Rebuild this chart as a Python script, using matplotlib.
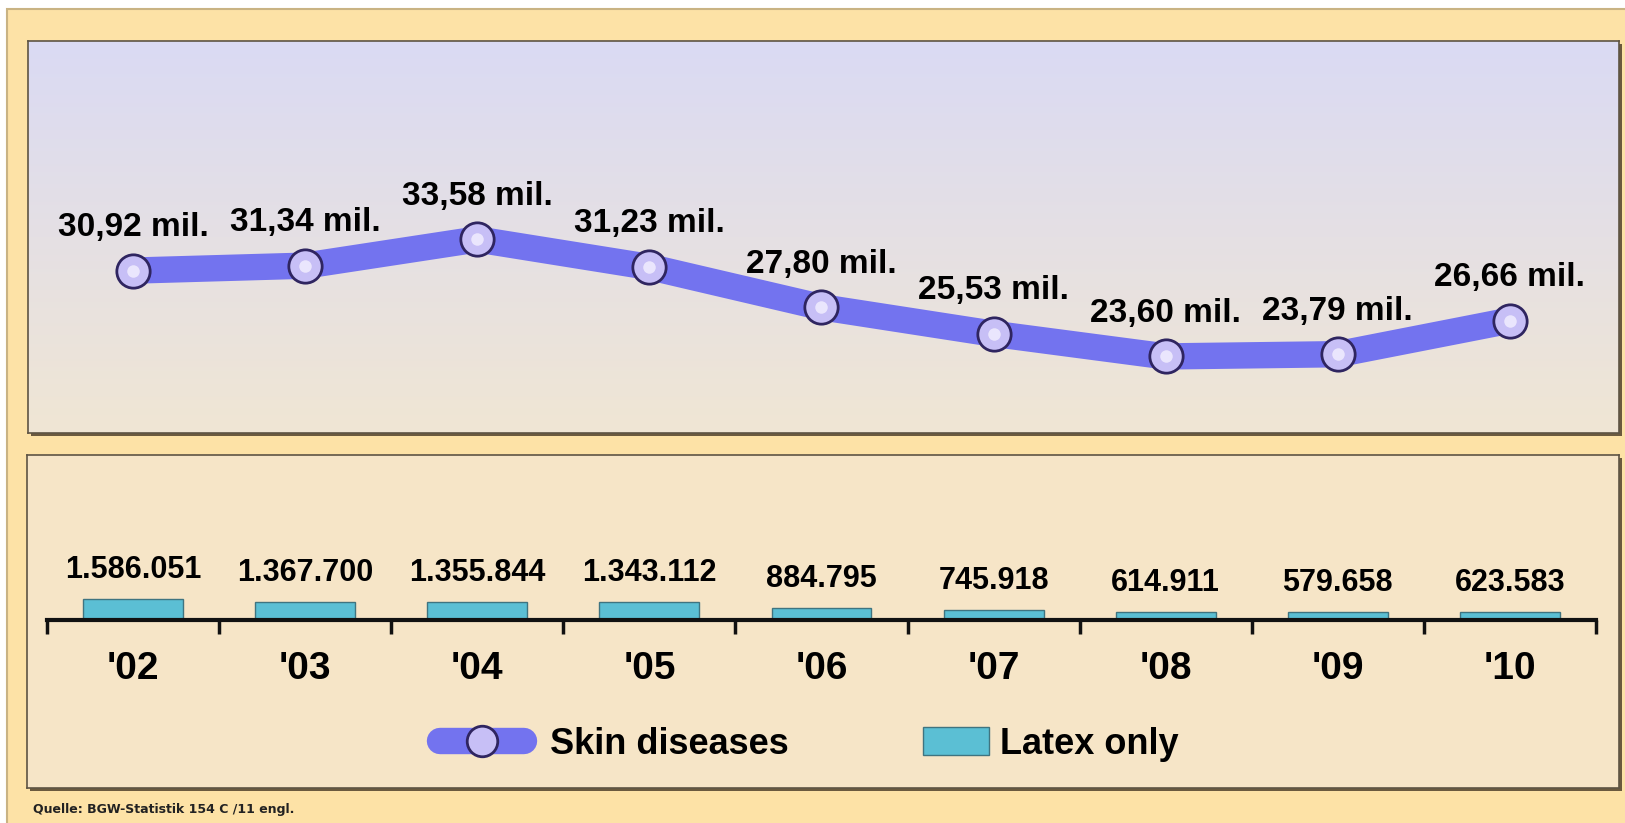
import matplotlib.pyplot as plt
import numpy as np
from matplotlib.patches import Rectangle, Patch
from matplotlib.lines import Line2D

plt.rcParams['font.family'] = ['Liberation Sans', 'DejaVu Sans']

years = ["'02", "'03", "'04", "'05", "'06", "'07", "'08", "'09", "'10"]
skin = [30.92, 31.34, 33.58, 31.23, 27.80, 25.53, 23.60, 23.79, 26.66]
skin_labels = ["30,92 mil.", "31,34 mil.", "33,58 mil.", "31,23 mil.", "27,80 mil.",
               "25,53 mil.", "23,60 mil.", "23,79 mil.", "26,66 mil."]
latex = [1586051, 1367700, 1355844, 1343112, 884795, 745918, 614911, 579658, 623583]
latex_labels = ["1.586.051", "1.367.700", "1.355.844", "1.343.112", "884.795",
                "745.918", "614.911", "579.658", "623.583"]

W, H = 1625, 823
fig = plt.figure(figsize=(W / 100, H / 100), dpi=100)
fig.patch.set_facecolor('white')


def box(x0, y0, x1, y1):
    # pixel box (top-left origin) -> figure fraction
    return [x0 / W, 1 - y1 / H, (x1 - x0) / W, (y1 - y0) / H]


# outer orange frame
fig.patches.append(Rectangle((7 / W, -0.05), 1, 1.05 - 9 / H, transform=fig.transFigure,
                             facecolor='#fde2a6', edgecolor='#c9b383', lw=1.5, zorder=-5))

# panel shadows
for (x0, y0, x1, y1) in [(28, 41, 1619, 433), (27, 455, 1619, 788)]:
    fig.patches.append(Rectangle(((x0 + 3) / W, 1 - (y1 + 3) / H), (x1 - x0) / W, (y1 - y0) / H,
                                 transform=fig.transFigure, facecolor='#6b5a3e',
                                 edgecolor='none', zorder=-4))

x = np.arange(len(years))

# ---- top panel: skin diseases line ----
ax1 = fig.add_axes(box(28, 41, 1619, 433))
ax1.set_xlim(-0.61, 8.634)
ax1.set_ylim(17.07, 50.5)
grad = np.linspace(0, 1, 256)[:, None]
c_top = np.array([218, 218, 244]) / 255
c_bot = np.array([240, 230, 212]) / 255
img = c_top[None, None, :] * (1 - grad[:, :, None]) + c_bot[None, None, :] * grad[:, :, None]
ax1.imshow(img, extent=[-0.61, 8.634, 17.07, 50.5], aspect='auto', zorder=0)
ax1.plot(x, skin, color='#7373ef', lw=19, solid_capstyle='butt', solid_joinstyle='round', zorder=2)
ax1.plot(x, skin, ls='none', marker='o', ms=24, mfc='#c7bff6', mec='#2f2560', mew=2, zorder=3)
ax1.plot(x, skin, ls='none', marker='o', ms=9, mfc='#f4f0ff', mec='none', alpha=0.8, zorder=4)
for xi, v, lab in zip(x, skin, skin_labels):
    ax1.annotate(lab, (xi, v), xytext=(0, 31), textcoords='offset points',
                 ha='center', va='center', fontsize=24, fontweight='bold', zorder=5)
ax1.set_xticks([])
ax1.set_yticks([])
for s in ax1.spines.values():
    s.set_color('#5e5444')
    s.set_linewidth(1.2)

# ---- bottom panel: latex bars ----
ax_bg = fig.add_axes(box(27, 455, 1619, 788))
ax_bg.set_facecolor('#f6e5c7')
ax_bg.set_xticks([])
ax_bg.set_yticks([])
for s in ax_bg.spines.values():
    s.set_color('#5e5444')
    s.set_linewidth(1.2)

ax2 = fig.add_axes(box(47, 470, 1596, 620))
ax2.patch.set_alpha(0)
ax2.bar(x, latex, width=0.58, color='#5bbfd4', edgecolor='#3f7480', lw=1, zorder=2)
ax2.set_xlim(-0.5, 8.5)
ax2.set_ylim(0, 150 / 13.3 * 1e6)
for xi, v, lab in zip(x, latex, latex_labels):
    ax2.annotate(lab, (xi, v), xytext=(0, 21), textcoords='offset points',
                 ha='center', va='center', fontsize=22, fontweight='bold')
for s in ['top', 'left', 'right']:
    ax2.spines[s].set_visible(False)
ax2.spines['bottom'].set_linewidth(3)
ax2.spines['bottom'].set_color('#111111')
ax2.set_yticks([])
ax2.set_xticks(x)
ax2.set_xticklabels(years, fontsize=28, fontweight='bold')
ax2.set_xticks(np.arange(-0.5, 9, 1), minor=True)
ax2.tick_params(axis='x', which='major', length=0, pad=22)
ax2.tick_params(axis='x', which='minor', length=10, width=2.5, direction='out', color='#111111')

# legend
h_line = Line2D([], [], color='#7373ef', lw=19, solid_capstyle='round', marker='o', ms=22,
                mfc='#c7bff6', mec='#2f2560', mew=2)
fig.legend(handles=[h_line], labels=['Skin diseases'], loc='center left',
           bbox_to_anchor=(407 / W, 1 - 744 / H), frameon=False, handlelength=2.35,
           handletextpad=0.72, prop={'size': 26, 'weight': 'bold'})
h_bar = Patch(facecolor='#5bbfd4', edgecolor='#3f7480', lw=1)
fig.legend(handles=[h_bar], labels=['Latex only'], loc='center left',
           bbox_to_anchor=(890 / W, 1 - 744 / H), frameon=False, handlelength=1.83,
           handleheight=0.83, handletextpad=0.33, prop={'size': 26, 'weight': 'bold'})

fig.text(33 / W, 1 - 810 / H, 'Quelle: BGW-Statistik 154 C /11 engl.', fontsize=9,
         fontweight='bold', family='DejaVu Sans', va='center', color='#222222')

fig.savefig('out.png', dpi=100, facecolor=fig.get_facecolor())
